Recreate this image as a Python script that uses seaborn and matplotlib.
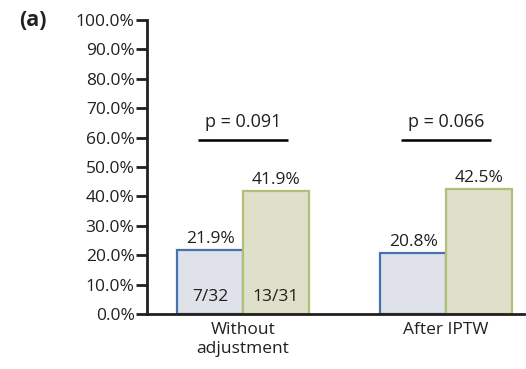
import matplotlib
matplotlib.use("Agg")
import matplotlib.pyplot as plt
import seaborn as sns
import pandas as pd

groups = ["Without\nadjustment", "After IPTW"]
arms = ["Control", "Treatment"]
rates = {"Control": [21.9, 20.8], "Treatment": [41.9, 42.5]}
counts = {"Control": ["7/32", ""], "Treatment": ["13/31", ""]}
p_values = ["p = 0.091", "p = 0.066"]
p_line_level = 59.2
yticks = [0, 10, 20, 30, 40, 50, 60, 70, 80, 90, 100]

fills = {"Control": "#dde1ea", "Treatment": "#e2e4c6"}
edges = {"Control": "#4673b0", "Treatment": "#b3bf78"}
ink = "#231f20"

rows = []
for arm in arms:
    for g, v in zip(groups, rates[arm]):
        rows.append({"group": g, "arm": arm, "rate": v})
df = pd.DataFrame(rows)

sns.set_style("ticks")
plt.rcParams["font.family"] = ["Open Sans", "DejaVu Sans"]

fig = plt.figure(figsize=(5.26, 3.69), dpi=100)
ax = fig.add_axes([0.2795, 0.149, 0.717, 0.797])

sns.barplot(data=df, x="group", y="rate", hue="arm", order=groups,
            hue_order=arms, palette=fills, width=0.65, ax=ax,
            legend=False, errorbar=None, linewidth=1.6)

for container, arm in zip(ax.containers, arms):
    for bar, val, cnt in zip(container, rates[arm], counts[arm]):
        bar.set_edgecolor(edges[arm])
        bar.set_linewidth(1.6)
        cx = bar.get_x() + bar.get_width() / 2
        ax.text(cx, val + 1.0, f"{val:.1f}%", ha="center", va="bottom",
                fontsize=12.5, color=ink)
        if cnt:
            ax.text(cx, 3.0, cnt, ha="center", va="bottom", fontsize=12.5,
                    color=ink)

for i, ptxt in enumerate(p_values):
    ax.plot([i - 0.22, i + 0.22], [p_line_level, p_line_level],
            color="black", lw=1.8, solid_capstyle="butt")
    ax.text(i, p_line_level + 3.0, ptxt, ha="center", va="bottom",
            fontsize=13, color=ink)

ax.set_xlim(-0.473, 1.384)
ax.set_ylim(0, 100)
ax.set_yticks(yticks)
ax.set_yticklabels([f"{t:.1f}%" for t in yticks], fontsize=12.5, color=ink)
ax.tick_params(axis="y", length=8, width=2, direction="out", color=ink, pad=1)
ax.tick_params(axis="x", length=0, labelsize=12.5, labelcolor=ink, pad=6)
ax.set_xlabel("")
ax.set_ylabel("")
for side in ["top", "right"]:
    ax.spines[side].set_visible(False)
for side in ["left", "bottom"]:
    ax.spines[side].set_linewidth(2)
    ax.spines[side].set_color(ink)

fig.text(0.036, 0.944, "(a)", fontsize=15.5, fontweight="bold", ha="left",
         va="center", color=ink)

fig.savefig("out.png", dpi=100)
